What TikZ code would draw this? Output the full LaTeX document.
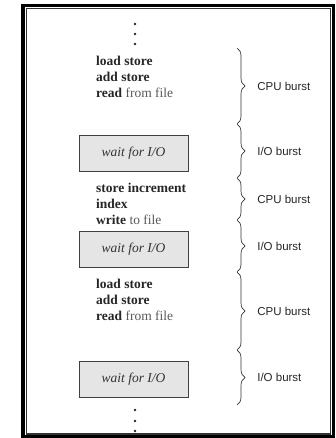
\documentclass[tikz,border=0pt]{standalone}
\usepackage{fontspec}
\setmainfont{Liberation Serif}
\newfontfamily\burstfont{Liberation Sans}
\usetikzlibrary{decorations.pathreplacing}

\begin{document}
\begin{tikzpicture}[x=1pt,y=1pt,yscale=-1,
  iobox/.style={draw=black!75, fill=black!10, line width=0.9pt, minimum width=109pt, minimum height=36pt, inner sep=0pt, font=\fontsize{13.5}{16}\selectfont\itshape, text=black!80},
  code/.style={anchor=west, align=left, inner sep=0pt, font=\fontsize{13.5}{16}\selectfont, text=black!85},
  burst/.style={decorate, decoration={brace, amplitude=8pt}, line width=0.7pt, black!80},
  burstlabel/.style={anchor=west, inner sep=0pt, font=\burstfont\fontsize{11.5}{13}\selectfont, text=black!85},
  dot/.style={circle, fill=black!85, inner sep=0pt, minimum size=2.6pt}]
\useasboundingbox (0,0) rectangle (336,438);

%Frame
\draw [line width=3.5pt] (23,5.3) rectangle (333.7,436.9) ;
\draw [line width=1.3pt, black!80] (26.6,8.6) rectangle (330.2,434) ;

%Dots
\foreach \y [count=\i] in {24,34,44} \node [dot] (dtop\i) at (135,\y) {};
\foreach \y [count=\i] in {410,421,431} \node [dot] (dbot\i) at (135,\y) {};

% Text Node
\node [code] (cpuA) at (96,77) {\textbf{load store}\\\textbf{add store}\\\textbf{read} \textcolor{black!65}{from file}};
% Text Node
\node [code] (cpuB) at (96,204) {\textbf{store increment}\\\textbf{index}\\\textbf{write} \textcolor{black!65}{to file}};
% Text Node
\node [code] (cpuC) at (96,300) {\textbf{load store}\\\textbf{add store}\\\textbf{read} \textcolor{black!65}{from file}};

%Shape: Rectangle
\node [iobox] (ioA) at (133.5,153) {wait for I/O};
\node [iobox] (ioB) at (133.5,249.5) {wait for I/O};
\node [iobox] (ioC) at (133.5,379.5) {wait for I/O};

%Braces
\foreach \y [count=\i from 0] in {48,124,178,220,272,350,405} \coordinate (b\i) at (237,\y);
\draw [burst] (b0) -- (b1) node [burstlabel, midway, xshift=20pt] (burstA) {CPU burst};
\draw [burst] (b1) -- (b2) node [burstlabel, midway, xshift=20pt] (burstB) {I/O burst};
\draw [burst] (b2) -- (b3) node [burstlabel, midway, xshift=20pt] (burstC) {CPU burst};
\draw [burst] (b3) -- (b4) node [burstlabel, midway, xshift=20pt] (burstD) {I/O burst};
\draw [burst] (b4) -- (b5) node [burstlabel, midway, xshift=20pt] (burstE) {CPU burst};
\draw [burst] (b5) -- (b6) node [burstlabel, midway, xshift=20pt] (burstF) {I/O burst};

\end{tikzpicture}
\end{document}
